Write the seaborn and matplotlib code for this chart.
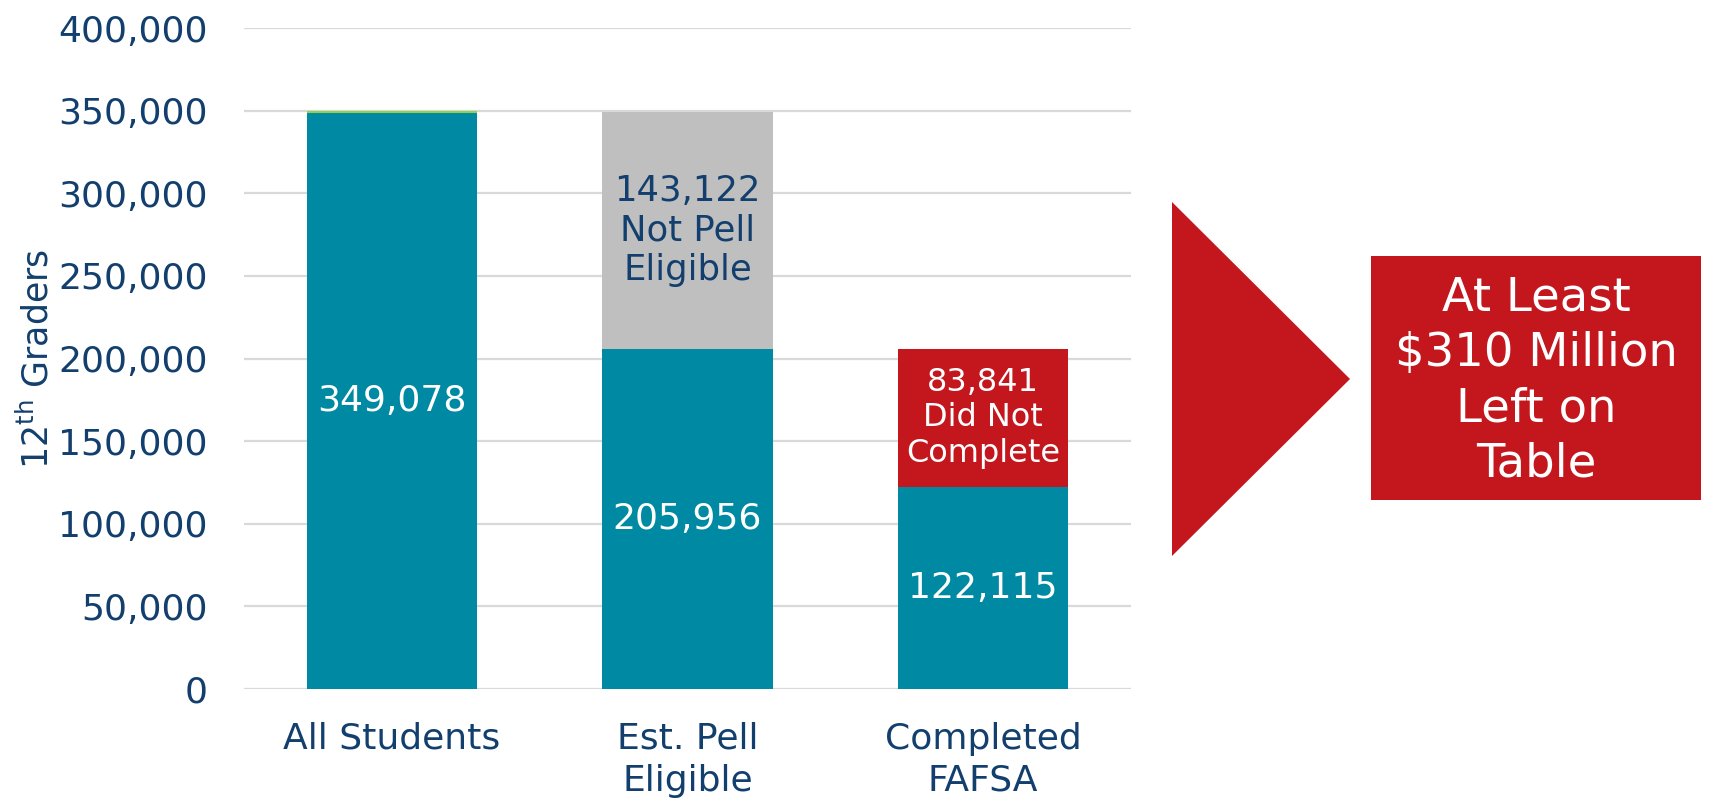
import matplotlib
matplotlib.use("Agg")
import matplotlib.pyplot as plt
import seaborn as sns
import pandas as pd
from matplotlib.patches import Polygon, Rectangle

categories = ["All Students", "Est. Pell\nEligible", "Completed\nFAFSA"]
base_values = [349078, 205956, 122115]
top_values = [0, 143122, 83841]
top_labels = ["", "Not Pell\nEligible", "Did Not\nComplete"]
y_ticks = [0, 50000, 100000, 150000, 200000, 250000, 300000, 350000, 400000]
callout_text = "At Least\n$310 Million\nLeft on\nTable"

TEAL = "#0089A2"
GREY = "#BFBFBF"
RED = "#C3161D"
GREEN = "#92D050"
NAVY = "#123F6D"

sns.set_theme(style="white")
plt.rcParams["font.family"] = ["DejaVu Sans"]

fig = plt.figure(figsize=(17.10, 8.01), dpi=100)
ax = fig.add_axes([244/1710, 1-689/801, 887/1710, 661/801])

totals = [b + t for b, t in zip(base_values, top_values)]
df = pd.DataFrame({"cat": categories, "base": base_values, "top": top_values, "total": totals})

top_colors = [TEAL, GREY, RED]
sns.barplot(data=df, x="cat", y="total", hue="cat", palette=top_colors, legend=False,
            width=0.575, ax=ax, saturation=1, linewidth=0, zorder=2)
sns.barplot(data=df, x="cat", y="base", color=TEAL, width=0.575, ax=ax,
            saturation=1, linewidth=0, zorder=3)

# thin green cap on first bar
p0 = ax.patches[0]
ax.plot([p0.get_x(), p0.get_x() + p0.get_width()], [totals[0], totals[0]],
        color=GREEN, lw=1.5, zorder=4, solid_capstyle="butt")

ax.set_ylim(0, 400000)
ax.set_xlim(-0.5, 2.5)
ax.set_yticks(y_ticks)
ax.set_yticklabels([f"{v:,}" for v in y_ticks])
ax.yaxis.grid(True, color="#D9D9D9", lw=1.6, zorder=0)
ax.set_axisbelow(True)
for s in ax.spines.values():
    s.set_visible(False)
ax.tick_params(axis="both", length=0, labelsize=26, labelcolor=NAVY)
ax.tick_params(axis="y", pad=26)
ax.tick_params(axis="x", pad=23.5)
for lab in ax.get_xticklabels():
    lab.set_linespacing(1.3)
ax.set_xlabel("")
ax.set_ylabel(r"12$^{\mathrm{th}}$ Graders", fontsize=25, color=NAVY)
ax.yaxis.set_label_coords(-0.213, 0.5)

for i, (b, t, lab) in enumerate(zip(base_values, top_values, top_labels)):
    ax.text(i, b / 2, f"{b:,}", ha="center", va="center", color="white", fontsize=26, zorder=5)
    if t > 0:
        if i == 1:
            ax.text(i, b + t / 2, f"{t:,}\n{lab}", ha="center", va="center", color=NAVY,
                    fontsize=25.5, linespacing=1.2, zorder=5)
        else:
            ax.text(i, b + t / 2, f"{t:,}\n{lab}", ha="center", va="center", color="white",
                    fontsize=23, linespacing=1.2, zorder=5)

# arrow triangle and callout box (figure decoration)
W, H = 1710, 801
tri = Polygon([(1172/W, 1-202/H), (1172/W, 1-556/H), (1350/W, 1-379/H)],
              closed=True, transform=fig.transFigure, facecolor=RED, edgecolor="none")
fig.patches.append(tri)
box = Rectangle((1371/W, 1-500/H), (1701-1371)/W, (500-256)/H,
                transform=fig.transFigure, facecolor=RED, edgecolor="none")
fig.patches.append(box)
fig.text(1536/W, 1-381/H, callout_text, ha="center", va="center", color="white",
         fontsize=33.5, linespacing=1.3)

fig.savefig("out.png", dpi=100)
